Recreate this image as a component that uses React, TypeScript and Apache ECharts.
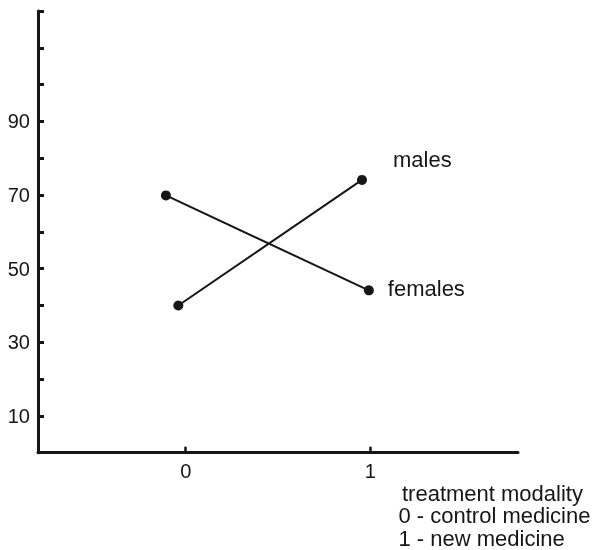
import React, { useEffect, useRef } from "react";
import * as echarts from "echarts";

const seriesNames = ["males", "females"];
// [treatment x position, value]
const malesData: [number, number][] = [
  [-0.04, 40.0],
  [0.955, 74.1],
];
const femalesData: [number, number][] = [
  [-0.107, 69.9],
  [0.992, 44.1],
];
const xTickValues = [0, 1];
const yTickValues = [10, 20, 30, 40, 50, 60, 70, 80, 90, 100, 110, 120];
const yLabelValues = [10, 30, 50, 70, 90];
const legendLines = [
  "treatment modality",
  "0 - control medicine",
  "1 - new medicine",
];

const INK = "#161616";
const FONT = "'Liberation Sans', Arial, Helvetica, sans-serif";

export default function App() {
  const ref = useRef<HTMLDivElement>(null);
  useEffect(() => {
    if (!ref.current) return;
    const chart = echarts.init(ref.current, undefined, { renderer: "svg" });
    const mkSeries = (name: string, data: [number, number][], labelCfg: any) => ({
      name,
      type: "line",
      data: data.map((d, i) =>
        i === data.length - 1
          ? { value: d, label: { show: true, formatter: name, ...labelCfg } }
          : { value: d }
      ),
      symbol: "circle",
      symbolSize: 10,
      itemStyle: { color: INK },
      lineStyle: { color: INK, width: 2 },
      label: {
        show: false,
        color: INK,
        fontSize: 22,
        fontFamily: FONT,
      },
      emphasis: { disabled: true },
    });
    const legendText = legendLines
      .map((t, i) => (i === 0 ? `{a|${t}}` : `{b|${t}}`))
      .join("\n");
    chart.setOption({
      animation: false,
      grid: { left: 38, right: 81, top: 11, bottom: 97.3 },
      xAxis: {
        type: "value",
        min: -0.8,
        max: 1.8,
        splitLine: { show: false },
        axisLine: { show: true, onZero: false, lineStyle: { color: INK, width: 3 } },
        axisTick: {
          show: true,
          inside: true,
          length: 6,
          customValues: xTickValues,
          lineStyle: { color: INK, width: 2.5 },
        },
        axisLabel: {
          customValues: xTickValues,
          fontSize: 20,
          fontFamily: FONT,
          color: INK,
          margin: 8,
        },
      },
      yAxis: {
        type: "value",
        min: 0,
        max: 120,
        splitLine: { show: false },
        axisLine: { show: true, onZero: false, lineStyle: { color: INK, width: 3 } },
        axisTick: {
          show: true,
          inside: true,
          length: 6,
          customValues: yTickValues,
          lineStyle: { color: INK, width: 3 },
        },
        axisLabel: {
          customValues: yLabelValues,
          fontSize: 20,
          fontFamily: FONT,
          color: INK,
          margin: 8,
        },
      },
      series: [
        mkSeries(seriesNames[0], malesData, { position: "right", distance: 26, offset: [0, -20] }),
        mkSeries(seriesNames[1], femalesData, { position: "right", distance: 14, offset: [0, -1.5] }),
      ],
      graphic: [
        {
          type: "text",
          left: 398.5,
          top: 482,
          style: {
            text: legendText,
            fill: INK,
            font: `22px ${FONT}`,
            lineHeight: 22.5,
            rich: {
              a: { fontSize: 22, fontFamily: FONT, fill: INK, lineHeight: 22.5, padding: [0, 0, 0, 3.5] },
              b: { fontSize: 22, fontFamily: FONT, fill: INK, lineHeight: 22.5 },
            },
          },
        },
      ],
    });
    return () => chart.dispose();
  }, []);
  return (
    <div
      ref={ref}
      style={{ position: "fixed", left: 0, top: 0, width: 599, height: 550 }}
    />
  );
}
